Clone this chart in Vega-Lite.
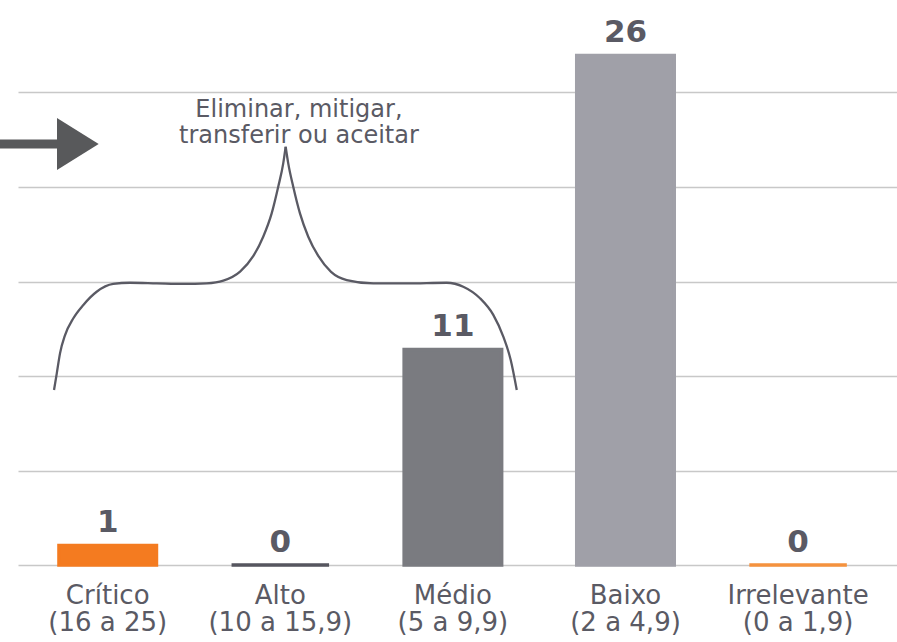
{
  "$schema": "https://vega.github.io/schema/vega-lite/v6.json",
  "width": 879,
  "height": 565,
  "autosize": {"type": "none"},
  "padding": {"left": 18, "top": 0, "right": 0, "bottom": 77},
  "background": "white",
  "config": {
    "view": {"stroke": null},
    "font": "DejaVu Sans",
    "axisY": {
      "title": null,
      "labels": false,
      "ticks": false,
      "domain": false,
      "grid": true,
      "gridColor": "#c8c8c8",
      "gridWidth": 1.5
    }
  },
  "datasets": {
    "barras": [
      {"nivel": "Crítico (16 a 25)", "riscos": 1},
      {"nivel": "Alto (10 a 15,9)", "riscos": 0},
      {"nivel": "Médio (5 a 9,9)", "riscos": 11},
      {"nivel": "Baixo (2 a 4,9)", "riscos": 26},
      {"nivel": "Irrelevante (0 a 1,9)", "riscos": 0}
    ],
    "chave": [
      {"parte": "esq", "u": -0.311, "v": 8.93},
      {"parte": "esq", "u": -0.295, "v": 9.78},
      {"parte": "esq", "u": -0.276, "v": 10.81},
      {"parte": "esq", "u": -0.247, "v": 11.73},
      {"parte": "esq", "u": -0.199, "v": 12.59},
      {"parte": "esq", "u": -0.141, "v": 13.27},
      {"parte": "esq", "u": -0.064, "v": 13.94},
      {"parte": "esq", "u": 0.032, "v": 14.34},
      {"parte": "esq", "u": 0.129, "v": 14.40},
      {"parte": "esq", "u": 0.284, "v": 14.37},
      {"parte": "esq", "u": 0.438, "v": 14.34},
      {"parte": "esq", "u": 0.574, "v": 14.37},
      {"parte": "esq", "u": 0.670, "v": 14.51},
      {"parte": "esq", "u": 0.767, "v": 14.97},
      {"parte": "esq", "u": 0.844, "v": 15.77},
      {"parte": "esq", "u": 0.901, "v": 16.75},
      {"parte": "esq", "u": 0.950, "v": 17.94},
      {"parte": "esq", "u": 0.988, "v": 19.30},
      {"parte": "esq", "u": 1.017, "v": 20.49},
      {"parte": "esq", "u": 1.031, "v": 21.34},
      {"parte": "dir", "u": 1.031, "v": 21.34},
      {"parte": "dir", "u": 1.046, "v": 20.49},
      {"parte": "dir", "u": 1.075, "v": 19.30},
      {"parte": "dir", "u": 1.114, "v": 17.94},
      {"parte": "dir", "u": 1.162, "v": 16.75},
      {"parte": "dir", "u": 1.220, "v": 15.77},
      {"parte": "dir", "u": 1.294, "v": 14.96},
      {"parte": "dir", "u": 1.385, "v": 14.54},
      {"parte": "dir", "u": 1.539, "v": 14.37},
      {"parte": "dir", "u": 1.732, "v": 14.37},
      {"parte": "dir", "u": 1.964, "v": 14.40},
      {"parte": "dir", "u": 2.060, "v": 14.20},
      {"parte": "dir", "u": 2.157, "v": 13.61},
      {"parte": "dir", "u": 2.234, "v": 12.76},
      {"parte": "dir", "u": 2.292, "v": 11.65},
      {"parte": "dir", "u": 2.335, "v": 10.46},
      {"parte": "dir", "u": 2.370, "v": 8.93}
    ],
    "haste": [
      {"u": -0.624, "v": 21.48},
      {"u": -0.270, "v": 21.48}
    ],
    "ponta": [
      {"u": -0.173, "v": 21.48}
    ],
    "nota": [
      {"u": 1.108, "v": 22.84, "texto": ["Eliminar, mitigar,", "transferir ou aceitar"]}
    ]
  },
  "layer": [
    {
      "data": {"name": "barras"},
      "encoding": {
        "x": {
          "field": "nivel",
          "type": "nominal",
          "sort": null,
          "scale": {"paddingInner": 0.435, "paddingOuter": 0.264, "align": 0.4495},
          "axis": {
            "title": null,
            "domain": false,
            "ticks": false,
            "grid": false,
            "labelAngle": 0,
            "labelFont": "DejaVu Sans",
            "labelFontSize": 26,
            "labelColor": "#5a5a64",
            "labelPadding": 17,
            "labelLineHeight": 27,
            "labelExpr": "[substring(datum.label, 0, indexof(datum.label, ' (')), substring(datum.label, indexof(datum.label, ' (') + 1)]"
          }
        },
        "y": {
          "field": "riscos",
          "type": "quantitative",
          "scale": {"domain": [0, 28.827], "nice": false, "zero": true},
          "axis": {"values": [0, 4.82, 9.64, 14.46, 19.29, 24.11]}
        }
      },
      "layer": [
        {
          "mark": {"type": "bar", "strokeWidth": 3.5},
          "encoding": {
            "color": {
              "field": "nivel",
              "type": "nominal",
              "scale": {
                "domain": ["Crítico (16 a 25)", "Alto (10 a 15,9)", "Médio (5 a 9,9)", "Baixo (2 a 4,9)", "Irrelevante (0 a 1,9)"],
                "range": ["#f47b20", "#56565f", "#7a7b80", "#a0a0a8", "#f5923e"]
              },
              "legend": null
            },
            "stroke": {
              "field": "nivel",
              "type": "nominal",
              "scale": {
                "domain": ["Crítico (16 a 25)", "Alto (10 a 15,9)", "Médio (5 a 9,9)", "Baixo (2 a 4,9)", "Irrelevante (0 a 1,9)"],
                "range": ["#f47b20", "#56565f", "#7a7b80", "#a0a0a8", "#f5923e"]
              },
              "legend": null
            }
          }
        },
        {
          "mark": {"type": "text", "dy": -13, "baseline": "alphabetic", "fontSize": 31, "fontWeight": "bold", "font": "DejaVu Sans", "color": "#5a5a64"},
          "encoding": {
            "text": {"field": "riscos", "type": "quantitative"}
          }
        }
      ]
    },
    {
      "data": {"name": "chave"},
      "mark": {"type": "line", "interpolate": "monotone", "color": "#5a5a64", "strokeWidth": 2.3},
      "encoding": {
        "x": {"field": "u", "type": "quantitative", "scale": {"domain": [-0.5197, 4.573], "nice": false, "zero": false}, "axis": null},
        "y": {"field": "v", "type": "quantitative", "scale": {"domain": [0, 28.827], "nice": false, "zero": true}, "axis": {"values": [0, 4.82, 9.64, 14.46, 19.29, 24.11]}},
        "detail": {"field": "parte", "type": "nominal"}
      }
    },
    {
      "data": {"name": "haste"},
      "mark": {"type": "line", "color": "#58595b", "strokeWidth": 9, "strokeCap": "butt"},
      "encoding": {
        "x": {"field": "u", "type": "quantitative", "scale": {"domain": [-0.5197, 4.573], "nice": false, "zero": false}, "axis": null},
        "y": {"field": "v", "type": "quantitative", "scale": {"domain": [0, 28.827], "nice": false, "zero": true}, "axis": {"values": [0, 4.82, 9.64, 14.46, 19.29, 24.11]}}
      }
    },
    {
      "data": {"name": "ponta"},
      "mark": {"type": "point", "shape": "M-1,-1.25L1,0L-1,1.25Z", "size": 1739, "filled": true, "opacity": 1, "color": "#58595b"},
      "encoding": {
        "x": {"field": "u", "type": "quantitative", "scale": {"domain": [-0.5197, 4.573], "nice": false, "zero": false}, "axis": null},
        "y": {"field": "v", "type": "quantitative", "scale": {"domain": [0, 28.827], "nice": false, "zero": true}, "axis": {"values": [0, 4.82, 9.64, 14.46, 19.29, 24.11]}}
      }
    },
    {
      "data": {"name": "nota"},
      "mark": {"type": "text", "align": "center", "baseline": "alphabetic", "fontSize": 24, "font": "DejaVu Sans", "lineHeight": 26, "color": "#5a5a64"},
      "encoding": {
        "x": {"field": "u", "type": "quantitative", "scale": {"domain": [-0.5197, 4.573], "nice": false, "zero": false}, "axis": null},
        "y": {"field": "v", "type": "quantitative", "scale": {"domain": [0, 28.827], "nice": false, "zero": true}, "axis": {"values": [0, 4.82, 9.64, 14.46, 19.29, 24.11]}},
        "text": {"field": "texto", "type": "nominal"}
      }
    }
  ],
  "resolve": {"scale": {"x": "independent"}}
}
